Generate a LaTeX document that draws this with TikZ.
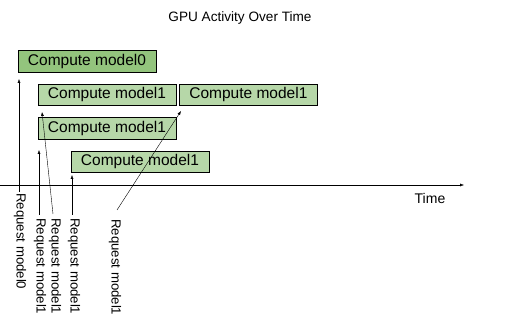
\documentclass[tikz,border=0pt]{standalone}
\usepackage{fontspec}
\setmainfont{Liberation Sans}
\usetikzlibrary{arrows.meta, positioning}
\definecolor{dkgreen}{HTML}{93C47D}
\definecolor{ltgreen}{HTML}{B6D7A8}
\tikzstyle{job} = [draw, rectangle, fill=ltgreen, minimum width=138pt, minimum height=21.5pt, inner sep=0pt, font=\fontsize{15.5}{18}\selectfont]
\tikzstyle{req} = [rotate=-90, anchor=west, inner sep=0pt, font=\fontsize{13.2}{16}\selectfont]

\begin{document}
\begin{tikzpicture}[x=1pt, y=-1pt, >={Latex[length=4pt, width=3pt]}]
        \useasboundingbox (0,0) rectangle (531,326);

        % title
        \node [font=\fontsize{13.6}{16}\selectfont] (title) at (240,18) {GPU Activity Over Time};

        % compute jobs
        \node [job, fill=dkgreen] (m0) at (87,61) {Compute model0};
        \node [job] (m1a) at (107,94.5) {Compute model1};
        \node [job, right=3pt of m1a] (m1b) {Compute model1};
        \node [job] (m1c) at (107,128) {Compute model1};
        \node [job] (m1d) at (140,161.5) {Compute model1};

        % time axis
        \coordinate (t0) at (0,185);
        \coordinate (t1) at (464,185);
        \draw [->] (t0) -- (t1);
        \node [font=\fontsize{14}{16}\selectfont] (time) at (430,198) {Time};

        % requests
        \node [req] (r0) at (20,193) {Request model0};
        \node [req] (r1) at (40,218) {Request model1};
        \node [req] (r2) at (55,218) {Request model1};
        \node [req] (r3) at (74,218) {Request model1};
        \node [req] (r4) at (115,219) {Request model1};

        \coordinate (a0) at (19,79);
        \coordinate (a1) at (39,150);
        \coordinate (a2) at (42,112);
        \coordinate (a3) at (72,175);
        \coordinate (a4) at (181,111);

        \draw [->] ([shift={(-1,-1)}]r0.west) -- (a0);
        \draw [->] ([shift={(-1,-3)}]r1.west) -- (a1);
        \draw [->] ([shift={(-2,-4)}]r2.west) -- (a2);
        \draw [->] ([shift={(-2,-3)}]r3.west) -- (a3);
        \draw [->] ([shift={(2,-9)}]r4.west) -- (a4);
    \end{tikzpicture}
\end{document}
